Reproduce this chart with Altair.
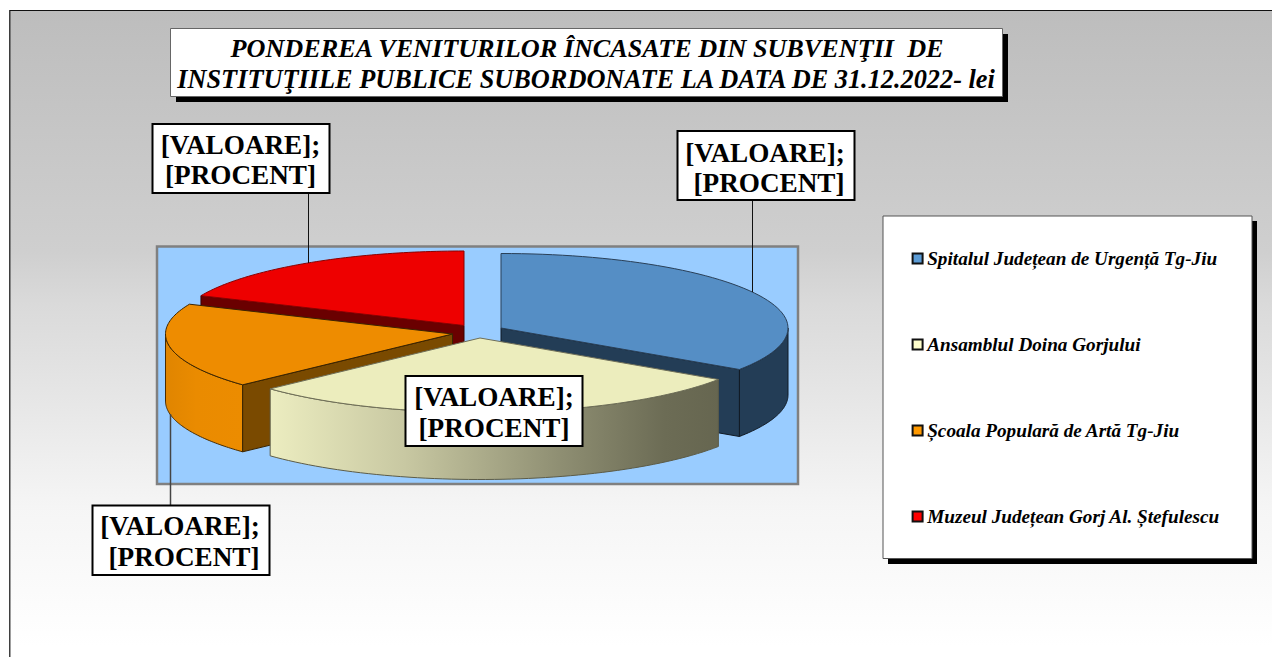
import math
import altair as alt

# ---- data ----
categories = ["Spitalul Județean de Urgență Tg-Jiu", "Ansamblul Doina Gorjului",
              "Școala Populară de Artă Tg-Jiu", "Muzeul Județean Gorj Al. Ștefulescu"]
shares = [34.4, 28.65, 18.5, 18.45]
legend_colors = ["#5b9bd5", "#ffffcc", "#ff9900", "#ff0000"]
top_colors = ["#558ec5", "#ecedbd", "#ee8c00", "#ee0000"]
title_lines = ["PONDEREA VENITURILOR ÎNCASATE DIN SUBVENŢII\u00a0 DE",
               "INSTITUŢIILE PUBLICE SUBORDONATE LA DATA DE 31.12.2022- lei"]
label_lines = ["[VALOARE];", "[PROCENT]"]

# ---- layout ----
OFF = 8
RX, RY, DEPTH = 287, 74.5, 67
centers = [(501, 328), (480, 338), (452.5, 334), (464, 325.5)]
FONT = "Liberation Serif"


def arc(c, a, b, dy=0, n=60):
    return [[c[0] + RX * math.cos(math.radians(a + (b - a) * i / n)),
             c[1] + dy + RY * math.sin(math.radians(a + (b - a) * i / n))] for i in range(n + 1)]


angles = [-90.0]
for s in shares:
    angles.append(angles[-1] + s / sum(shares) * 360)


def geo(points):
    ring = points + [points[0]]
    return alt.Data(values=[{"type": "Feature", "properties": {},
                             "geometry": {"type": "Polygon", "coordinates": [ring]}}],
                    format=alt.DataFormat(type="json"))


def shape(points, fill, stroke, sw=1.0):
    return alt.Chart(geo(points)).mark_geoshape(fill=fill, stroke=stroke, strokeWidth=sw)


def wall(i, a, b, fill, stroke):
    c = centers[i]
    return shape(arc(c, a, b) + arc(c, b, a, DEPTH), fill, stroke)


def face(i, t, fill, stroke):
    c = centers[i]
    e = arc(c, t, t, n=1)[0]
    return shape([[c[0], c[1]], e, [e[0], e[1] + DEPTH], [c[0], c[1] + DEPTH]], fill, stroke)


def top(i, stroke):
    c = centers[i]
    return shape([[c[0], c[1]]] + arc(c, angles[i], angles[i + 1]), top_colors[i], stroke)


def grad(stops):
    return alt.Gradient(gradient="linear", x1=0, x2=1, y1=0, y2=0,
                        stops=[alt.GradientStop(offset=o, color=k) for o, k in stops])


one = alt.Data(values=[{"k": 0}])


def box(x0, y0, x1, y1, fill, stroke=None, sw=1.0):
    kw = {"fill": fill}
    if stroke:
        kw.update(stroke=stroke, strokeWidth=sw)
    return alt.Chart(one).mark_rect(**kw).encode(
        x=alt.value(x0 - OFF), x2=alt.value(x1 - OFF), y=alt.value(y0 - OFF), y2=alt.value(y1 - OFF))


def vline(x, y0, y1, color, sw=1.0):
    return alt.Chart(one).mark_rule(color=color, strokeWidth=sw).encode(
        x=alt.value(x - OFF), y=alt.value(y0 - OFF), y2=alt.value(y1 - OFF))


def text(s, x, y, size, italic=False, align="center"):
    kw = {"fontStyle": "italic"} if italic else {}
    return alt.Chart(alt.Data(values=[{"t": s}])).mark_text(
        font=FONT, fontWeight="bold", fontSize=size, color="black", align=align,
        baseline="alphabetic", **kw).encode(text="t:N", x=alt.value(x - OFF), y=alt.value(y - OFF))


bg = alt.Gradient(gradient="linear", x1=0, x2=0, y1=0, y2=1, stops=[
    alt.GradientStop(offset=0, color="#bdbdbd"),
    alt.GradientStop(offset=0.36, color="#cfcfcf"),
    alt.GradientStop(offset=0.44, color="#dadada"),
    alt.GradientStop(offset=0.6, color="#e8e8e8"),
    alt.GradientStop(offset=0.74, color="#f5f5f5"),
    alt.GradientStop(offset=0.95, color="#ffffff"),
    alt.GradientStop(offset=1, color="#ffffff")])

layers = [
    box(9.8, 10.5, 1300, 680, bg, "#111111", 1.2),
    box(157, 246.5, 798, 484, "#99ccff", "#808080", 2.5),
    # red
    face(3, angles[3], "#6a0000", "#3a0000"),
    top(3, "#8a0000"),
    # blue
    wall(0, 0, angles[1], "#233d56", "#111a24"),
    face(0, angles[1], "#233d56", "#111a24"),
    top(0, "#2a4058"),
    # orange
    wall(2, angles[2], 180, grad([(0, "#e08500"), (0.4, "#ea8b00"), (1, "#ec8c00")]), "#4a2c00"),
    face(2, angles[2], "#7a4a00", "#3a2400"),
    top(2, "#3a2400"),
    # yellow
    wall(1, angles[1], angles[2], grad([(0, "#ecedc0"), (0.3, "#c8c8a2"), (0.65, "#8e8e72"),
                                        (0.88, "#6c6c55"), (1, "#666650")]), "#5c5c48"),
    top(1, "#6e6e58"),
    # leaders
    vline(308.5, 193, 263, "#111111"),
    vline(752.5, 200, 292, "#111111"),
    vline(170.5, 414, 505, "#444444", 1.5),
]

# title box
layers += [box(176, 34, 1008, 102, "black"),
           box(170.5, 28.5, 1002.5, 96.5, "white", "#666666", 1),
           text(title_lines[0], 587, 57, 26.2, True),
           text(title_lines[1], 586, 87.5, 26.3, True)]

# data label boxes: (x0, y0, x1, y1, centre1, base1, centre2, base2)
for x0, y0, x1, y1, c1, b1, c2, b2 in [
    (152.5, 124, 329.5, 193, 240.5, 153.5, 240.5, 184),
    (677.5, 131, 854.5, 200, 765, 161.5, 769, 191.5),
    (405.5, 376, 582.5, 446, 494, 406, 494, 437),
    (92.5, 505.5, 269.5, 575, 180, 535, 184, 566),
]:
    layers += [box(x0, y0, x1, y1, "white", "black", 2),
               text(label_lines[0], c1, b1, 27.2),
               text(label_lines[1], c2, b2, 27.2)]

# legend box and shadow
layers += [box(888, 221, 1257, 564, "black"),
           box(883, 216, 1252, 558.5, "white", "#555555", 1)]

legend = alt.Legend(orient="none", legendX=913 - OFF - 5, legendY=254 - OFF - 5, title=None,
                    symbolType="square", symbolSize=100, symbolStrokeColor="#111111",
                    symbolStrokeWidth=2, symbolOpacity=1, labelFont=FONT, labelFontSize=19.2,
                    labelFontStyle="italic", labelFontWeight="bold", labelColor="black",
                    labelLimit=400, labelOffset=0, rowPadding=66, labelOpacity=1)
layers.append(
    alt.Chart(alt.Data(values=[{"name": c} for c in categories])).mark_point(
        filled=True, size=0, opacity=0).encode(
        x=alt.value(0), y=alt.value(0),
        color=alt.Color("name:N", sort=None,
                        scale=alt.Scale(domain=categories, range=legend_colors), legend=legend)))

chart = alt.layer(*layers).project(type="identity", scale=1, translate=[-OFF, -OFF]).properties(
    width=1264, height=649, padding=0, background="white",
    autosize=alt.AutoSizeParams(type="none")
).configure_view(strokeWidth=0)

chart.save("out.html", embed_options={"renderer": "svg", "actions": False})
